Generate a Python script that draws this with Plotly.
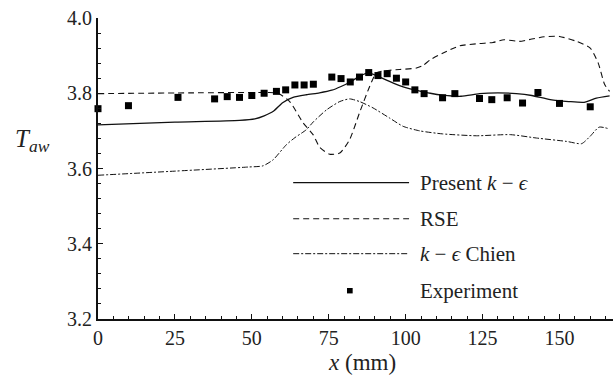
import plotly.graph_objects as go

# Adiabatic wall temperature along the wall, x in mm
present_x = [0, 25, 46, 51, 54, 57, 60, 63.4, 67.7, 72, 76, 79, 82, 85, 88, 91, 96, 100,
             104, 108, 112, 118, 124, 130, 136, 141, 147, 153, 158, 162, 166.3]
present_y = [3.716, 3.723, 3.728, 3.732, 3.740, 3.752, 3.775, 3.789, 3.796, 3.801, 3.808,
             3.818, 3.830, 3.845, 3.854, 3.845, 3.827, 3.815, 3.807, 3.800, 3.795, 3.792,
             3.799, 3.801, 3.799, 3.794, 3.783, 3.778, 3.776, 3.787, 3.793]

rse_x = [0, 30, 55, 58.5, 62.3, 66.7, 69.9, 72.1, 75.3, 78.6, 81.8, 85, 88.3, 90.5, 94.8,
         98, 103.5, 105.7, 108, 112.2, 117.6, 124, 128.4, 132, 137, 141, 145, 150, 155.5,
         160, 162.6, 164.7, 166.3]
rse_y = [3.799, 3.801, 3.802, 3.800, 3.778, 3.721, 3.690, 3.656, 3.638, 3.641, 3.677,
         3.748, 3.818, 3.854, 3.861, 3.863, 3.867, 3.874, 3.889, 3.907, 3.926, 3.932,
         3.935, 3.942, 3.938, 3.944, 3.950, 3.951, 3.938, 3.920, 3.880, 3.823, 3.805]

chien_x = [0, 25, 49, 53.6, 56.9, 61.2, 64, 67.7, 70, 74.3, 78.6, 81.8, 85, 89.4, 94.8,
           99.2, 104.6, 112, 123, 134, 142.5, 152.3, 157.2, 159.9, 162.9, 166.3]
chien_y = [3.582, 3.593, 3.604, 3.607, 3.623, 3.663, 3.682, 3.703, 3.724, 3.756, 3.778,
           3.785, 3.778, 3.761, 3.734, 3.712, 3.700, 3.692, 3.687, 3.690, 3.681, 3.672,
           3.666, 3.685, 3.710, 3.705]

exp_x = [0, 9.9, 26, 37.9, 42, 46, 50, 54, 58, 61, 64, 67, 70, 76, 79, 82, 85, 88, 91,
         94, 97, 100, 103, 106, 112, 116, 124, 128, 133, 138, 143, 150, 160]
exp_y = [3.759, 3.767, 3.789, 3.785, 3.791, 3.789, 3.794, 3.800, 3.805, 3.809, 3.822,
         3.822, 3.824, 3.843, 3.839, 3.830, 3.843, 3.855, 3.847, 3.852, 3.840, 3.830,
         3.809, 3.799, 3.788, 3.799, 3.786, 3.783, 3.788, 3.774, 3.802, 3.773, 3.764]

legend_labels = ["Present <i>k</i> \u2212 <i>\u03f5</i>", "RSE",
                 "<i>k</i> \u2212 <i>\u03f5</i> Chien", "Experiment"]

SERIF = "Liberation Serif, Times New Roman, serif"
INK = "#111111"

DASH_RSE = "6px,4px"
DASH_CHIEN = "6px,2px,2px,2px"

fig = go.Figure()
fig.add_trace(go.Scatter(x=present_x, y=present_y, mode="lines",
                         line=dict(color=INK, width=1.3, shape="spline", smoothing=0.6)))
fig.add_trace(go.Scatter(x=rse_x, y=rse_y, mode="lines",
                         line=dict(color=INK, width=1.1, dash=DASH_RSE,
                                   shape="spline", smoothing=0.6)))
fig.add_trace(go.Scatter(x=chien_x, y=chien_y, mode="lines",
                         line=dict(color=INK, width=1.0, dash=DASH_CHIEN,
                                   shape="spline", smoothing=0.6)))
fig.add_trace(go.Scatter(x=exp_x, y=exp_y, mode="markers",
                         marker=dict(symbol="square", size=7, color="black",
                                     line=dict(width=0)),
                         cliponaxis=False))

# Hand-built legend inside the plot area (paper coordinates)
x_l0, x_l1, x_txt = 0.379, 0.604, 0.622
rows = [0.453, 0.333, 0.217, 0.094]
styles = [dict(dash="solid", width=1.3), dict(dash=DASH_RSE, width=1.1),
          dict(dash=DASH_CHIEN, width=1.0)]
shapes = []
for yv, st in zip(rows[:3], styles):
    shapes.append(dict(type="line", xref="paper", yref="paper", x0=x_l0, x1=x_l1,
                       y0=yv, y1=yv, line=dict(color=INK, **st)))
shapes.append(dict(type="rect", xref="paper", yref="paper",
                   x0=0.489 - 0.0055, x1=0.489 + 0.0055,
                   y0=rows[3] - 0.009, y1=rows[3] + 0.009,
                   fillcolor="black", line=dict(width=0)))

annotations = []
for yv, txt in zip(rows, legend_labels):
    annotations.append(dict(xref="paper", yref="paper", x=x_txt, y=yv, text=txt,
                            showarrow=False, xanchor="left", yanchor="middle",
                            font=dict(family=SERIF, size=21, color="#222")))
annotations.append(dict(xref="paper", yref="paper", x=0.513, y=-0.145,
                        text="<i>x</i> (mm)", showarrow=False,
                        xanchor="center", yanchor="middle",
                        font=dict(family=SERIF, size=23, color="#222")))
annotations.append(dict(xref="paper", yref="paper", x=-0.128, y=0.592,
                        text="<i>T</i><sub><i>aw</i></sub>", showarrow=False,
                        xanchor="center", yanchor="middle",
                        font=dict(family=SERIF, size=25, color="#222")))

axis_common = dict(showline=True, linecolor="#111", linewidth=2, ticks="inside",
                   tickcolor="#111", tickwidth=1.2, ticklen=5, showgrid=False,
                   zeroline=False, mirror=False,
                   tickfont=dict(family=SERIF, size=20, color="#222"))

fig.update_layout(
    width=613, height=377,
    margin=dict(l=98, r=0, t=18, b=58),
    paper_bgcolor="white", plot_bgcolor="white",
    showlegend=False,
    shapes=shapes, annotations=annotations,
    xaxis=dict(range=[0, 167.4], tick0=0, dtick=25,
               minor=dict(dtick=5, ticks="inside", ticklen=3, tickcolor="#111",
                          tickwidth=1, showgrid=False),
               **axis_common),
    yaxis=dict(range=[3.2, 4.0], tick0=3.2, dtick=0.2, tickformat=".1f",
               minor=dict(dtick=0.04, ticks="inside", ticklen=3, tickcolor="#111",
                          tickwidth=1, showgrid=False),
               **axis_common),
)

fig.write_html("out.html")
